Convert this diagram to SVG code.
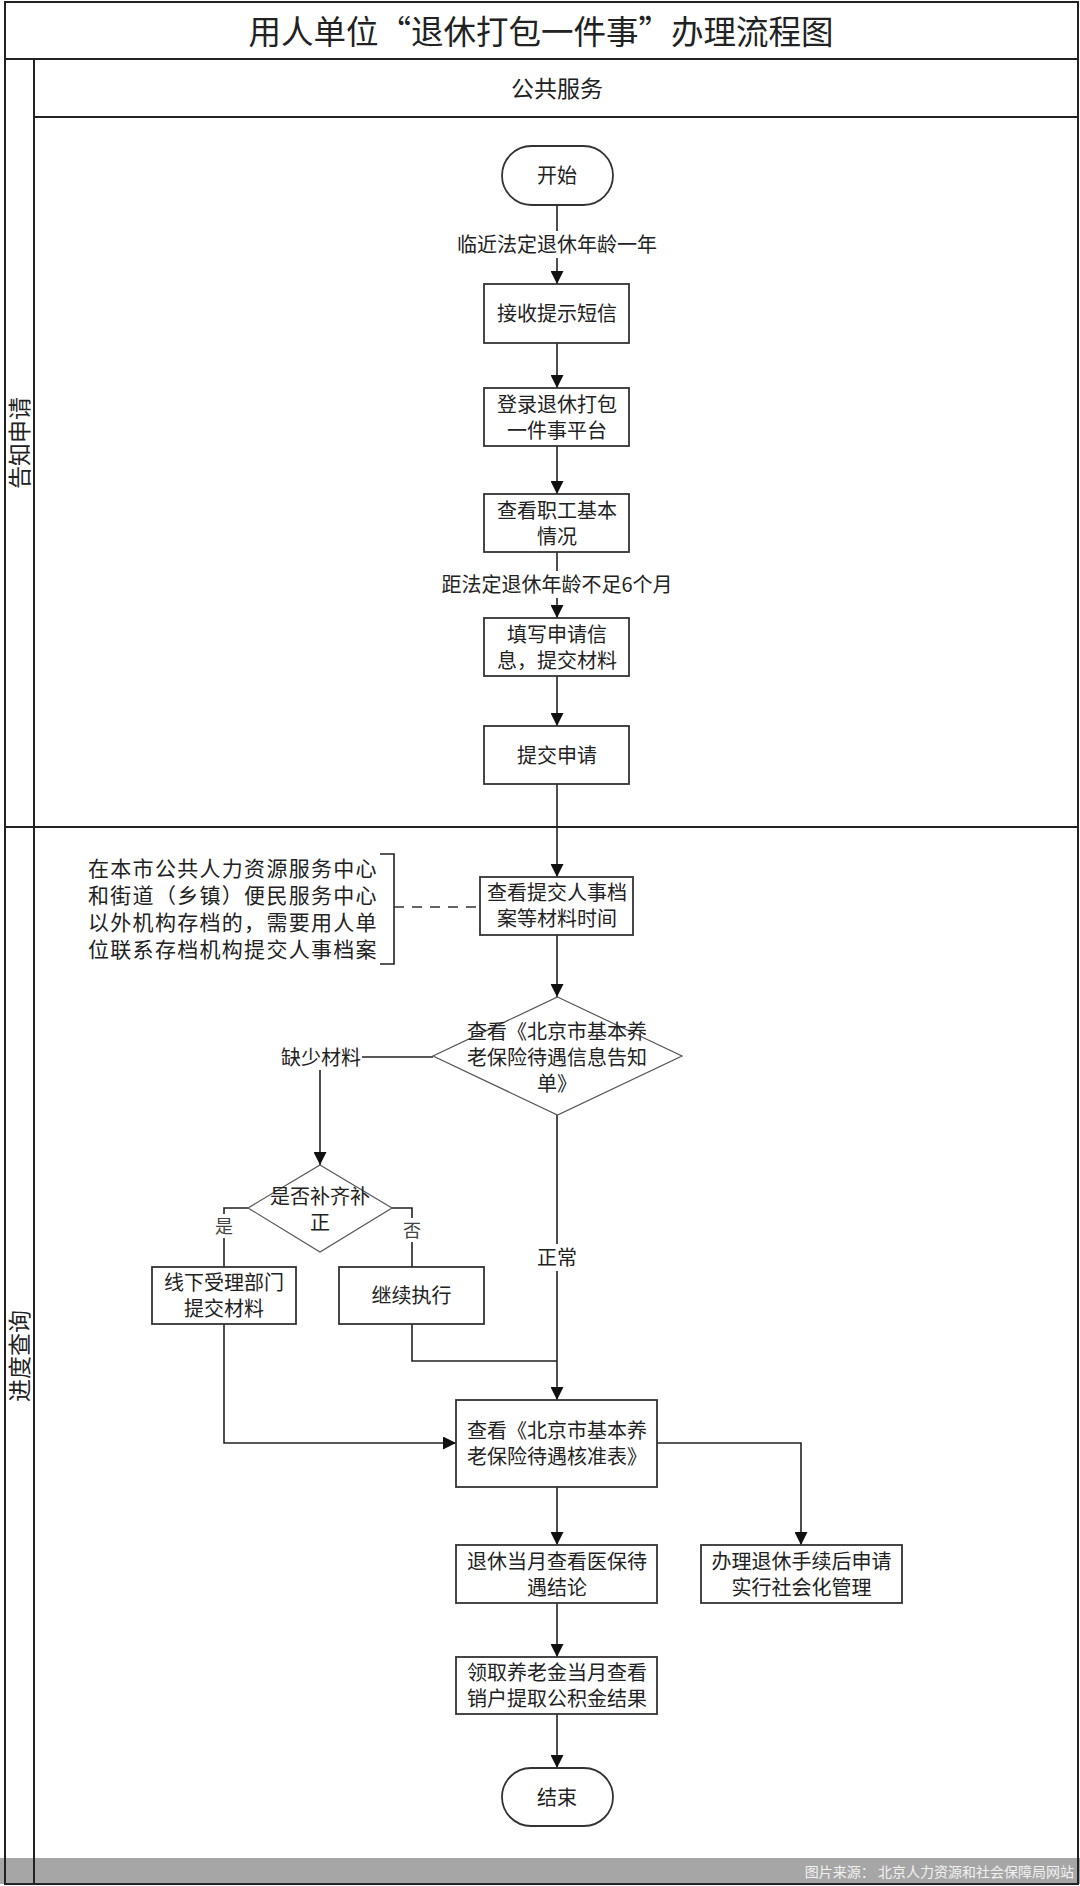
<svg xmlns="http://www.w3.org/2000/svg" width="1080" height="1886" viewBox="0 0 1080 1886">
<defs>
<style>
text{font-family:"Noto Sans CJK SC","Noto Sans",sans-serif;fill:#222;}
.t20{font-size:20px;text-anchor:middle;}
.note{font-size:21px;letter-spacing:1.3px;}
.box{fill:#fff;stroke:#333;stroke-width:1.8;}
.dia{fill:#fff;stroke:#555;stroke-width:1.2;}
.frame{fill:none;stroke:#222;stroke-width:2;}
.ln{fill:none;stroke:#222;stroke-width:1.6;}
.dash{fill:none;stroke:#333;stroke-width:1.6;stroke-dasharray:10 8;}
.bg{fill:#fff;}
.yn{font-size:18px;text-anchor:middle;fill:#444;}
</style>
<marker id="arr" markerUnits="userSpaceOnUse" markerWidth="13" markerHeight="13" refX="13" refY="6.5" orient="auto">
<path d="M0,0 L13,6.5 L0,13 z" fill="#111"/>
</marker>
</defs>
<rect x="0" y="0" width="1080" height="1886" fill="#fff"/>
<rect x="0" y="1858" width="1080" height="26" fill="#a6a6a6"/>
<g id="frame">
<rect class="frame" x="5" y="2" width="1073" height="1882"/>
<line class="frame" x1="5" y1="59" x2="1078" y2="59"/>
<line class="frame" x1="34" y1="59" x2="34" y2="1884"/>
<line class="frame" x1="34" y1="117" x2="1078" y2="117"/>
<line class="frame" x1="5" y1="827" x2="1078" y2="827"/>
<text x="541" y="44" style="font-size:32.5px;text-anchor:middle;">用人单位“退休打包一件事”办理流程图</text>
<text x="557" y="97" style="font-size:23px;text-anchor:middle;">公共服务</text>
<text transform="translate(20,443) rotate(-90)" y="8" style="font-size:23px;text-anchor:middle;">告知申请</text>
<text transform="translate(20,1356) rotate(-90)" y="8" style="font-size:23px;text-anchor:middle;">进度查询</text>
<text x="1074" y="1877" style="font-size:14px;text-anchor:end;fill:#f2f2f2;">图片来源： 北京人力资源和社会保障局网站</text>
</g>
<g id="connectors">
<line class="ln" x1="557" y1="205" x2="557" y2="284" marker-end="url(#arr)"/>
<line class="ln" x1="557" y1="343" x2="557" y2="388" marker-end="url(#arr)"/>
<line class="ln" x1="557" y1="446" x2="557" y2="494" marker-end="url(#arr)"/>
<line class="ln" x1="557" y1="552" x2="557" y2="618" marker-end="url(#arr)"/>
<line class="ln" x1="557" y1="676" x2="557" y2="726" marker-end="url(#arr)"/>
<line class="ln" x1="557" y1="784" x2="557" y2="877" marker-end="url(#arr)"/>
<line class="ln" x1="557" y1="935" x2="557" y2="997" marker-end="url(#arr)"/>
<line class="ln" x1="557" y1="1115" x2="557" y2="1400" marker-end="url(#arr)"/>
<path class="ln" d="M433,1057 H320 V1165" marker-end="url(#arr)"/>
<path class="ln" d="M248,1208 H224 V1267"/>
<path class="ln" d="M392,1208 H412 V1267"/>
<path class="ln" d="M412,1324 V1361 H557"/>
<path class="ln" d="M224,1324 V1443 H456" marker-end="url(#arr)"/>
<path class="ln" d="M657,1443 H801 V1545" marker-end="url(#arr)"/>
<line class="ln" x1="557" y1="1487" x2="557" y2="1545" marker-end="url(#arr)"/>
<line class="ln" x1="557" y1="1603" x2="557" y2="1657" marker-end="url(#arr)"/>
<line class="ln" x1="557" y1="1714" x2="557" y2="1768" marker-end="url(#arr)"/>
<path class="ln" d="M380,854 H394 V964 H380"/>
<line class="dash" x1="394" y1="907" x2="480" y2="907"/>
<rect class="bg" x="452" y="231" width="210" height="27"/>
<text class="t20" x="557" y="252">临近法定退休年龄一年</text>
<rect class="bg" x="437" y="571" width="240" height="27"/>
<text class="t20" x="557" y="592">距法定退休年龄不足6个月</text>
<rect class="bg" x="280" y="1044" width="82" height="26"/>
<text class="t20" x="321" y="1065">缺少材料</text>
<rect class="bg" x="215" y="1214" width="18" height="24"/>
<text class="yn" x="224" y="1233">是</text>
<rect class="bg" x="403" y="1218" width="18" height="24"/>
<text class="yn" x="412" y="1237">否</text>
<rect class="bg" x="535" y="1244" width="44" height="27"/>
<text class="t20" x="557" y="1265">正常</text>
</g>
<g id="n-start">
<rect class="box" x="502" y="146" width="111" height="59" rx="29.5" ry="29.5"/>
<text class="t20" x="557" y="183">开始</text>
</g>
<g id="n-sms">
<rect class="box" x="484" y="284" width="145" height="59"/>
<text class="t20" x="557" y="321">接收提示短信</text>
</g>
<g id="n-login">
<rect class="box" x="484" y="388" width="145" height="58"/>
<text class="t20" x="557" y="412">登录退休打包</text>
<text class="t20" x="557" y="438">一件事平台</text>
</g>
<g id="n-info">
<rect class="box" x="484" y="494" width="145" height="58"/>
<text class="t20" x="557" y="518">查看职工基本</text>
<text class="t20" x="557" y="544">情况</text>
</g>
<g id="n-fill">
<rect class="box" x="484" y="618" width="145" height="58"/>
<text class="t20" x="557" y="642">填写申请信</text>
<text class="t20" x="557" y="668">息，提交材料</text>
</g>
<g id="n-submit">
<rect class="box" x="484" y="726" width="145" height="58"/>
<text class="t20" x="557" y="763">提交申请</text>
</g>
<g id="n-note">
<text class="note" x="88" y="876">在本市公共人力资源服务中心</text>
<text class="note" x="88" y="903">和街道（乡镇）便民服务中心</text>
<text class="note" x="88" y="930">以外机构存档的，需要用人单</text>
<text class="note" x="88" y="957">位联系存档机构提交人事档案</text>
</g>
<g id="n-archive">
<rect class="box" x="480" y="877" width="153" height="58"/>
<text class="t20" x="557" y="900">查看提交人事档</text>
<text class="t20" x="557" y="926">案等材料时间</text>
</g>
<g id="n-notice">
<polygon class="dia" points="557.5,997 682,1056 557.5,1115 433,1056"/>
<text class="t20" x="557" y="1039">查看《北京市基本养</text>
<text class="t20" x="557" y="1065">老保险待遇信息告知</text>
<text class="t20" x="557" y="1091">单》</text>
</g>
<g id="n-supp">
<polygon class="dia" points="320,1165 392,1208 320,1252 248,1208"/>
<text class="t20" x="320" y="1204">是否补齐补</text>
<text class="t20" x="320" y="1230">正</text>
</g>
<g id="n-offline">
<rect class="box" x="152" y="1267" width="144" height="57"/>
<text class="t20" x="224" y="1290">线下受理部门</text>
<text class="t20" x="224" y="1316">提交材料</text>
</g>
<g id="n-continue">
<rect class="box" x="339" y="1267" width="145" height="57"/>
<text class="t20" x="411.5" y="1303">继续执行</text>
</g>
<g id="n-approve">
<rect class="box" x="456" y="1400" width="201" height="87"/>
<text class="t20" x="557" y="1438">查看《北京市基本养</text>
<text class="t20" x="557" y="1464">老保险待遇核准表》</text>
</g>
<g id="n-medical">
<rect class="box" x="456" y="1545" width="201" height="58"/>
<text class="t20" x="557" y="1569">退休当月查看医保待</text>
<text class="t20" x="557" y="1595">遇结论</text>
</g>
<g id="n-social">
<rect class="box" x="701" y="1545" width="201" height="58"/>
<text class="t20" x="801.5" y="1569">办理退休手续后申请</text>
<text class="t20" x="801.5" y="1595">实行社会化管理</text>
</g>
<g id="n-fund">
<rect class="box" x="456" y="1657" width="201" height="57"/>
<text class="t20" x="557" y="1680">领取养老金当月查看</text>
<text class="t20" x="557" y="1706">销户提取公积金结果</text>
</g>
<g id="n-end">
<rect class="box" x="502" y="1768" width="111" height="58" rx="29" ry="29"/>
<text class="t20" x="557" y="1805">结束</text>
</g>
</svg>
